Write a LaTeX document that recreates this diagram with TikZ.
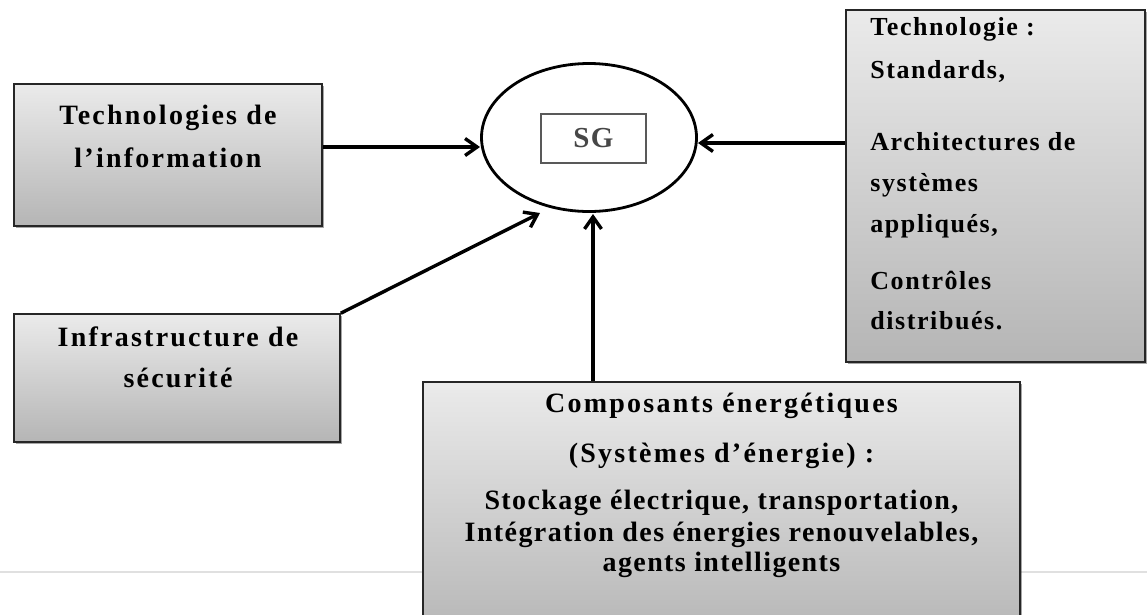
\documentclass[tikz,border=0pt]{standalone}
\usepackage{fontspec}
\newfontfamily\panelfont[LetterSpace=8,UprightFont=* Bold]{Liberation Serif}
\newfontfamily\energyfont[LetterSpace=5,UprightFont=* Bold]{Liberation Serif}
\newfontfamily\listfont[LetterSpace=6,UprightFont=* Bold]{Liberation Serif}
\usetikzlibrary{arrows.meta,shadows,calc,shapes.geometric}

\begin{document}
\begin{tikzpicture}[x=1pt,y=-1pt,
  panel/.style={draw=black!85, line width=1.6pt, top color=black!8, bottom color=black!29,
    inner sep=0pt,
    drop shadow={shadow xshift=2pt,shadow yshift=-2pt,opacity=0.35,fill=black}},
  caption/.style={inner sep=0pt, anchor=base, text=black,
    font=\panelfont\fontsize{28}{30}\selectfont},
  listing/.style={inner sep=0pt, anchor=base west, text=black,
    font=\listfont\fontsize{26}{28}\selectfont},
  arr/.style={line width=3.4pt, -{Straight Barb[length=12pt,width=17pt]}},
]
% canvas
\clip (0,0) rectangle (1147,614);
\fill[white] (0,0) rectangle (1147,614);
\draw[black!12, line width=1.5pt] (0,572) -- (1147,572);

% boxes
\node[panel, minimum width=308, minimum height=142] (b1) at (168,155) {};
\node[panel, minimum width=326, minimum height=128] (b3) at (177,378) {};
\node[panel, minimum width=299, minimum height=352] (b2) at (995.5,186) {};
\node[panel, minimum width=597, minimum height=258] (b4) at (721.5,511) {};

% central ellipse
\node[draw, ellipse, fill=white, line width=2.8pt, minimum width=215, minimum height=148, inner sep=0pt] (el) at (589,137.5) {};
\node[draw=black!65, line width=1.4pt, minimum width=105, minimum height=49, inner sep=0pt,
  text=black!72, font=\energyfont\fontsize{29}{30}\selectfont] (sg) at (593.5,138.5) {SG};

% arrow end points
\coordinate (p1) at (480,147);
\coordinate (p2) at (698,143);
\coordinate (p3) at (540,213);
\coordinate (p4) at (593,214);

\draw[arr] (b1.east |- p1) -- (p1);
\draw[arr] (b2.west |- p2) -- (p2);
\draw[arr] (b3.north east) -- (p3);
\draw[arr] (b4.north -| p4) -- (p4);

% texts
\node[caption] (t1) at ($(b1.north)+(0,41)$)
  {\begin{tabular}[t]{@{}c@{}}Technologies de\\[13pt] l’information\end{tabular}};
\node[caption] (t3) at ($(b3.north)+(1,33)$)
  {\begin{tabular}[t]{@{}c@{}}Infrastructure de\\[11pt] sécurité\end{tabular}};
\node[listing] (t2) at ($(b2.north west)+(25,26)$)
  {\begin{tabular}[t]{@{}l@{}}Technologie :\\[15pt] Standards,\\[44pt] Architectures de\\[13pt]
   systèmes\\[13pt] appliqués,\\[29pt] Contrôles\\[12pt] distribués.\end{tabular}};
\node[caption, font=\energyfont\fontsize{28}{30}\selectfont] (t4) at ($(b4.north)+(0,31)$)
  {\begin{tabular}[t]{@{}c@{}}{\panelfont Composants énergétiques}\\[20pt]
   {\panelfont (Systèmes d’énergie) :}\\[17pt]
   Stockage électrique, transportation,\\[2pt] Intégration des énergies renouvelables,\\[0pt]
   agents intelligents\end{tabular}};
\end{tikzpicture}
\end{document}
